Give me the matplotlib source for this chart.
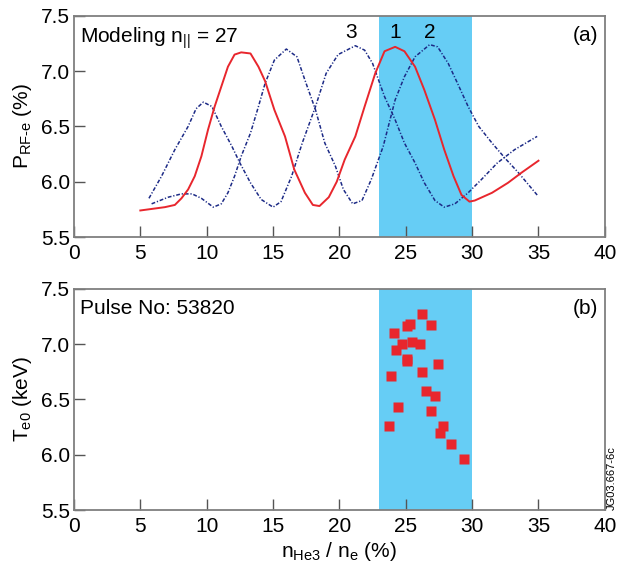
""" P_RF-e modelling vs. measured Te0 against He3 concentration. """

import numpy as np
import matplotlib
matplotlib.use('Agg')
import matplotlib.pyplot as plt

plt.rcParams['font.family'] = ['Liberation Sans', 'DejaVu Sans']
plt.rcParams['mathtext.fontset'] = 'custom'
plt.rcParams['mathtext.rm'] = 'Liberation Sans'
plt.rcParams['mathtext.it'] = 'Liberation Sans'
plt.rcParams['mathtext.default'] = 'regular'


# Curve 1 (red, solid)
x_1 = [5.0, 6.85, 7.6, 8.1, 8.6, 9.1, 9.6, 10.1, 10.6, 11.1, 11.6, 12.1, 12.6, 13.3, 13.9,
       14.4, 15.1, 15.9, 16.6, 17.4, 18.0, 18.5, 19.2, 19.8, 20.4, 21.2, 21.9, 22.7,
       23.4, 24.2, 24.9, 25.7, 26.4, 27.2, 27.9, 28.6, 29.2, 29.8, 30.2, 31.5, 32.7,
       33.7, 35.0]
p_1 = [5.74, 5.77, 5.79, 5.85, 5.93, 6.05, 6.23, 6.47, 6.68, 6.86, 7.04, 7.15, 7.17, 7.16,
       7.04, 6.91, 6.65, 6.41, 6.11, 5.90, 5.79, 5.78, 5.86, 6.00, 6.20, 6.41, 6.68, 6.98,
       7.18, 7.22, 7.18, 7.04, 6.83, 6.56, 6.29, 6.05, 5.88, 5.82, 5.83, 5.90, 5.99,
       6.08, 6.19]

# Curve 2 (dash-dot, peak near 27)
x_2 = [5.85, 7.1, 8.1, 8.9, 9.6, 10.5, 11.1, 11.6, 12.1, 12.6, 13.3, 13.9, 14.4, 15.1,
       16.0, 16.8, 17.4, 18.2, 18.9, 19.7, 20.3, 21.0, 21.7, 22.4, 23.3, 24.2, 24.9,
       25.7, 26.8, 27.4, 28.2, 28.9, 29.7, 30.5, 31.5, 32.5, 33.5, 34.9]
p_2 = [5.80, 5.86, 5.89, 5.89, 5.85, 5.77, 5.80, 5.90, 6.05, 6.23, 6.44, 6.68, 6.89, 7.10,
       7.20, 7.13, 6.92, 6.65, 6.35, 6.14, 5.93, 5.80, 5.83, 6.02, 6.32, 6.74, 6.95,
       7.13, 7.24, 7.22, 7.07, 6.89, 6.68, 6.50, 6.35, 6.21, 6.08, 5.88]

# Curve 3 (dash-dot, peak near 21)
x_3 = [5.65, 6.6, 7.6, 8.6, 9.2, 9.75, 10.4, 11.1, 11.9, 12.5, 13.3, 14.1, 15.0, 15.6,
       16.4, 17.2, 18.2, 19.0, 19.9, 21.2, 21.9, 22.5, 23.4, 24.2, 24.9, 25.7, 26.4,
       27.2, 27.9, 28.7, 29.7, 30.7, 31.9, 33.2, 34.9]
p_3 = [5.85, 6.05, 6.29, 6.50, 6.66, 6.72, 6.68, 6.50, 6.32, 6.17, 5.99, 5.84, 5.77, 5.82,
       6.05, 6.35, 6.68, 6.98, 7.15, 7.23, 7.19, 7.07, 6.77, 6.56, 6.35, 6.17, 5.99,
       5.83, 5.77, 5.80, 5.90, 6.02, 6.17, 6.29, 6.41]

# Measured central electron temperature, pulse 53820
n_he3 = [26.2, 25.3, 25.1, 26.9, 24.1, 24.7, 25.5, 26.1, 24.3, 25.1, 25.1, 27.4, 23.9,
         26.2, 26.5, 27.2, 24.4, 26.9, 23.7, 27.8, 27.6, 28.4, 29.4]
te0 = [7.27, 7.18, 7.16, 7.17, 7.10, 7.00, 7.02, 7.00, 6.95, 6.87, 6.85, 6.82, 6.71,
       6.75, 6.58, 6.53, 6.43, 6.40, 6.26, 6.26, 6.20, 6.10, 5.96]

shade_range = (23.0, 30.0)
x_ticks = [0, 5, 10, 15, 20, 25, 30, 35, 40]
y_ticks = [5.5, 6.0, 6.5, 7.0, 7.5]

shade_color = '#66cdf5'
red = '#e8262d'
navy = '#1c2a86'
frame = '#7f7f7f'
fs = 15


def styleAxes(ax):
    """ Common frame, ticks and shaded band. """

    ax.axvspan(shade_range[0], shade_range[1], color=shade_color, lw=0, zorder=1)

    ax.set_xlim(0, 40)
    ax.set_ylim(5.5, 7.5)
    ax.set_xticks(x_ticks)
    ax.set_yticks(y_ticks)
    ax.set_yticklabels(['{:.1f}'.format(v) for v in y_ticks])

    for sp in ax.spines.values():
        sp.set_color(frame)
        sp.set_linewidth(1.3)

    ax.tick_params(axis='both', direction='in', length=8, width=1.0, color='#555555',
                   labelsize=fs)
    ax.tick_params(axis='x', pad=5)
    ax.tick_params(axis='y', pad=3)


fig = plt.figure(figsize=(6.18, 5.67), dpi=100)

ax1 = fig.add_axes([0.1197, 0.582, 0.859, 0.390])
ax2 = fig.add_axes([0.1197, 0.1005, 0.859, 0.390])


### Top panel: modelling ###
styleAxes(ax1)

ax1.plot(x_3, p_3, color=navy, lw=1.1, dashes=(2.5, 1.2, 0.8, 1.2), zorder=3)
ax1.plot(x_2, p_2, color=navy, lw=1.1, dashes=(2.5, 1.2, 0.8, 1.2), zorder=3)
ax1.plot(x_1, p_1, color=red, lw=1.4, zorder=4)

ax1.text(20.9, 7.35, '3', fontsize=fs, ha='center', va='center')
ax1.text(24.2, 7.35, '1', fontsize=fs, ha='center', va='center')
ax1.text(26.8, 7.35, '2', fontsize=fs, ha='center', va='center')

ax1.text(0.012, 0.955, r'Modeling n$_{||}$ = 27', transform=ax1.transAxes, fontsize=fs,
         ha='left', va='top')
ax1.text(0.988, 0.955, '(a)', transform=ax1.transAxes, fontsize=fs, ha='right', va='top')

ax1.set_ylabel(r'P$_{RF\text{-}e}$ (%)', fontsize=fs, labelpad=5)


### Bottom panel: measurement ###
styleAxes(ax2)

ax2.plot(n_he3, te0, linestyle='none', marker='s', ms=7.5, mfc=red, mec='none', zorder=3)

ax2.text(0.012, 0.955, 'Pulse No: 53820', transform=ax2.transAxes, fontsize=fs,
         ha='left', va='top')
ax2.text(0.988, 0.955, '(b)', transform=ax2.transAxes, fontsize=fs, ha='right', va='top')

ax2.set_ylabel(r'T$_{e0}$ (keV)', fontsize=fs, labelpad=5)
ax2.set_xlabel(r'n$_{He3}$ / n$_e$ (%)', fontsize=fs, labelpad=3)

fig.text(0.990, 0.1005, 'JG03.667-6c', rotation=90, fontsize=8, ha='center', va='bottom')

plt.savefig('out.png', dpi=100)
plt.close()
